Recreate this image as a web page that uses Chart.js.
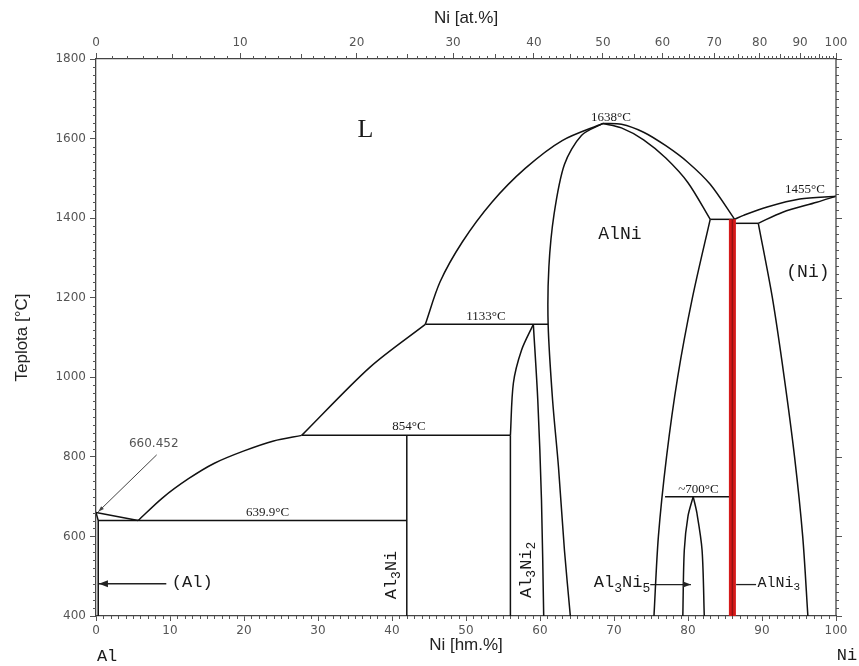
<!DOCTYPE html>
<html><head><meta charset="utf-8">
<script src="https://cdn.jsdelivr.net/npm/chart.js@4.4.1/dist/chart.umd.min.js"></script>
<style>html,body{margin:0;padding:0;background:#fff;}#wrap{width:859px;height:666px;}</style>
</head><body><div id="wrap"><canvas id="c" width="859" height="666"></canvas></div>
<script>
// ---- axis data ----
const AL_MASS = 26.98, NI_MASS = 58.69;
const atTicks = [0,10,20,30,40,50,60,70,80,90,100];
function atToWt(a){ return 100*a*NI_MASS/(a*NI_MASS+(100-a)*AL_MASS); }

// ---- phase boundaries [wt.% Ni, °C] ----
const liqAlEut   = [[0,660],[5.7,640]];
const alSolidus  = [[0,660],[0.3,640],[0.3,400]];
const eut640     = [[0.3,640],[42,640]];
const liqAl3Ni   = [[5.7,640],[9,697],[12.5,745],[16,784],[20,815],[24,840],[27.8,854]];
const per854     = [[27.8,854],[56,854]];
const al3NiLine  = [[42,400],[42,854]];
const liqAl3Ni2  = [[27.8,854],[37,1025],[44.5,1133]];
const per1133    = [[44.5,1133],[61.1,1133]];
const liqAlNiL   = [[44.5,1133],[46.5,1240],[49.5,1340],[53.5,1440],[58,1525],[63,1595],[68.5,1638]];
const liqAlNiR   = [[68.5,1638],[71,1636],[74,1616],[77,1582],[80,1540],[83,1485],[86.3,1397]];
const solAlNiR   = [[68.5,1638],[71,1627],[74,1597],[77,1551],[80,1489],[83.0,1397]];
const alNiLeft   = [[68.5,1638],[65.6,1608],[63.3,1535],[61.9,1410],[61.2,1277],[61.1,1133],[61.7,943],[62.5,774],[63.3,566],[64.1,400]];
const al3Ni2Vert = [[56,400],[56,854]];
const al3Ni2L    = [[56,854],[56.4,985],[57.5,1068],[59.1,1133]];
const al3Ni2R    = [[59.1,1133],[59.7,943],[60.2,692],[60.5,400]];
const per1395    = [[83.0,1397],[86.3,1397]];
const per1385    = [[86.4,1387],[89.5,1387]];
const liqNi      = [[86.3,1397],[87.5,1407],[90.7,1428],[95.1,1448],[100,1455]];
const solNi      = [[89.5,1387],[92.8,1415],[97.4,1440],[100,1455]];
const solvNi     = [[89.5,1387],[91.4,1200],[93.0,1000],[94.4,800],[95.5,600],[96.2,400]];
const alNiRight  = [[83.0,1397],[80.6,1200],[78.6,1000],[77.1,800],[76.0,600],[75.4,400]];
const per700     = [[76.9,700],[85.6,700]];
const al3Ni5L    = [[80.7,700],[80.0,651],[79.5,566],[79.3,400]];
const al3Ni5R    = [[80.7,700],[81.2,659],[81.9,566],[82.2,400]];
const alNi3      = [[86,1397],[86,400]];
// leader lines / arrows
const alArrow     = [[9.5,481],[0.4,481]];
const al3Ni5Arrow = [[74.9,479],[80.4,479]];
const alNi3Leader = [[86.5,479],[89.2,479]];
const leader660   = [[8.2,805],[0.3,662]];

const curved = [liqAl3Ni, liqAl3Ni2, liqAlNiL, liqAlNiR, solAlNiR, alNiLeft, al3Ni2L, al3Ni2R, liqNi, solNi, solvNi, alNiRight, al3Ni5L, al3Ni5R];
const straight = [liqAlEut, alSolidus, eut640, per854, al3NiLine, per1133, al3Ni2Vert, per1395, per1385, per700];
const leaders = [alArrow, al3Ni5Arrow, alNi3Leader];

const toPts = a => a.map(p => ({x:p[0], y:p[1]}));
const datasets = [];
curved.forEach(c => datasets.push({data:toPts(c), borderColor:'#111', borderWidth:1.5, tension:0.3, order:2}));
straight.forEach(c => datasets.push({data:toPts(c), borderColor:'#111', borderWidth:1.5, tension:0, order:2}));
leaders.forEach(c => datasets.push({data:toPts(c), borderColor:'#222', borderWidth:1.3, tension:0, order:2}));
datasets.push({data:toPts(leader660), borderColor:'#444', borderWidth:1, tension:0, order:2});
datasets.push({data:toPts(alNi3), borderColor:'#d61a1a', borderWidth:7, tension:0, order:1, borderCapStyle:'butt'});
datasets.push({data:toPts(alNi3), borderColor:'#931212', borderWidth:1.5, tension:0, order:0, borderCapStyle:'butt'});

// ---- text labels ----
const MONO = '"Liberation Mono"', SERIF = '"Liberation Serif"';
const labels = [
  {parts:[['L']], x:36.4, y:1621, size:26, fam:SERIF},
  {parts:[['1638°C']], x:69.6, y:1654, size:13, fam:SERIF},
  {parts:[['1455°C']], x:95.8, y:1473, size:13, fam:SERIF},
  {parts:[['1133°C']], x:52.7, y:1152, size:13, fam:SERIF},
  {parts:[['854°C']], x:42.3, y:875, size:13, fam:SERIF},
  {parts:[['639.9°C']], x:23.2, y:659, size:13, fam:SERIF},
  {parts:[['~700°C']], x:81.4, y:719, size:13, fam:SERIF},
  {parts:[['660.452']], x:7.8, y:832, size:12, fam:'"DejaVu Sans"', color:'#555'},
  {parts:[['AlNi']], x:70.8, y:1360, size:18, fam:MONO},
  {parts:[['(Ni)']], x:96.2, y:1265, size:18, fam:MONO},
  {parts:[['(Al)']], x:13.0, y:483, size:17, fam:MONO},
  {parts:[['Al'],['3',1],['Ni']], x:39.9, y:503, size:17, fam:MONO, rot:true},
  {parts:[['Al'],['3',1],['Ni'],['2',1]], x:58.2, y:516, size:17, fam:MONO, rot:true},
  {parts:[['Al'],['3',1],['Ni'],['5',1]], x:74.9, y:483, size:17, fam:MONO, align:'right'},
  {parts:[['AlNi'],['3',1]], x:89.4, y:483, size:15, fam:MONO, align:'left'},
  {parts:[['Al']], x:1.5, y:297, size:17, fam:MONO},
  {parts:[['Ni']], x:100.1, y:300, size:17, fam:MONO, align:'left'}
];

function drawRich(ctx, l, px, py){
  const big = l.size + 'px ' + l.fam, small = Math.round(l.size*0.75) + 'px ' + l.fam;
  let total = 0;
  const widths = l.parts.map(p => { ctx.font = p[1] ? small : big; const w = ctx.measureText(p[0]).width; total += w; return w; });
  ctx.save();
  ctx.translate(px, py);
  if (l.rot) ctx.rotate(-Math.PI/2);
  let x0 = l.align === 'right' ? -total : (l.align === 'left' ? 0 : -total/2);
  ctx.textBaseline = 'middle';
  ctx.textAlign = 'left';
  ctx.fillStyle = l.color || '#1a1a1a';
  l.parts.forEach((p, i) => {
    ctx.font = p[1] ? small : big;
    ctx.fillText(p[0], x0, p[1] ? l.size*0.3 : 0);
    x0 += widths[i];
  });
  ctx.restore();
}

function arrowHead(ctx, x1, y1, x2, y2, len, wid){
  const a = Math.atan2(y2-y1, x2-x1);
  ctx.beginPath();
  ctx.moveTo(x2, y2);
  ctx.lineTo(x2 - len*Math.cos(a) + wid*Math.sin(a), y2 - len*Math.sin(a) - wid*Math.cos(a));
  ctx.lineTo(x2 - len*Math.cos(a) - wid*Math.sin(a), y2 - len*Math.sin(a) + wid*Math.cos(a));
  ctx.closePath(); ctx.fill();
}

const decor = {
  id:'decor',
  afterDraw(chart){
    const ctx = chart.ctx, xs = chart.scales.x, ys = chart.scales.y, x2 = chart.scales.x2;
    const {left, right, top, bottom} = chart.chartArea;
    ctx.save();
    ctx.strokeStyle = '#555'; ctx.lineWidth = 1;
    const seg = (a,b,c,d) => { ctx.beginPath(); ctx.moveTo(a,b); ctx.lineTo(c,d); ctx.stroke(); };
    for (let w = 1; w < 100; w++) if (w % 10) { const p = Math.round(xs.getPixelForValue(w))+0.5; seg(p, bottom, p, bottom+3); }
    for (let a = 1; a < 100; a++) if (a % 10) { const p = Math.round(x2.getPixelForValue(atToWt(a)))+0.5; seg(p, top, p, top-(a%5===0?5:3)); }
    for (let t = 420; t < 1800; t += 20) if (t % 200) { const p = Math.round(ys.getPixelForValue(t))+0.5; seg(left-3, p, left, p); seg(right, p, right+3, p); }
    for (let t = 400; t <= 1800; t += 200) { const p = Math.round(ys.getPixelForValue(t))+0.5; seg(right, p, right+6, p); }
    ctx.strokeStyle = '#444'; ctx.lineWidth = 1.3;
    seg(right, top, right, bottom);
    // arrowheads
    ctx.fillStyle = '#222';
    const px = p => [xs.getPixelForValue(p[0]), ys.getPixelForValue(p[1])];
    let a0 = px(alArrow[0]), a1 = px(alArrow[1]); arrowHead(ctx, a0[0], a0[1], a1[0], a1[1], 9, 3.5);
    a0 = px(al3Ni5Arrow[0]); a1 = px(al3Ni5Arrow[1]); arrowHead(ctx, a0[0], a0[1], a1[0], a1[1], 8, 3);
    ctx.fillStyle = '#444';
    a0 = px(leader660[0]); a1 = px(leader660[1]); arrowHead(ctx, a0[0], a0[1], a1[0], a1[1], 6, 2);
    // labels
    labels.forEach(l => drawRich(ctx, l, xs.getPixelForValue(l.x), ys.getPixelForValue(l.y)));
    ctx.restore();
  }
};

const tickFont = {family:'"DejaVu Sans"', size:12};
const titleFont = {family:'"Liberation Sans"', size:17};
new Chart(document.getElementById('c'), {
  type:'scatter',
  data:{datasets},
  options:{
    responsive:false, devicePixelRatio:1, animation:false,
    showLine:true,
    elements:{point:{radius:0, hoverRadius:0}, line:{fill:false}},
    layout:{padding:{left:0, right:23, top:0, bottom:0}},
    plugins:{legend:{display:false}, tooltip:{enabled:false}},
    events:[],
    scales:{
      x:{type:'linear', position:'bottom', min:0, max:100,
        ticks:{stepSize:10, autoSkip:false, maxRotation:0, padding:3, color:'#555', font:tickFont, callback:v => String(v)},
        grid:{drawOnChartArea:false, drawTicks:true, tickLength:5, color:'#555'},
        border:{display:true, color:'#444', width:1.3},
        title:{display:true, text:'Ni [hm.%]', font:titleFont, color:'#222', padding:{top:0, bottom:10}},
        afterFit(s){ s.height = 50; }
      },
      x2:{type:'linear', position:'top', min:0, max:100,
        afterBuildTicks(s){ s.ticks = atTicks.map(a => ({value: atToWt(a)})); },
        ticks:{autoSkip:false, maxRotation:0, padding:3, color:'#555', font:tickFont, callback:(v,i) => String(atTicks[i])},
        grid:{drawOnChartArea:false, drawTicks:true, tickLength:6, color:'#555'},
        border:{display:true, color:'#444', width:1.3},
        title:{display:true, text:'Ni [at.%]', font:titleFont, color:'#222', padding:{top:8, bottom:0}},
        afterFit(s){ s.height = 59; }
      },
      y:{type:'linear', position:'left', min:400, max:1800,
        ticks:{stepSize:200, autoSkip:false, padding:4, color:'#555', font:tickFont, callback:v => String(v)},
        grid:{drawOnChartArea:false, drawTicks:true, tickLength:6, color:'#555'},
        border:{display:true, color:'#444', width:1.3},
        title:{display:true, text:'Teplota [°C]', font:titleFont, color:'#222', padding:{top:12, bottom:0}},
        afterFit(s){ s.width = 96; }
      }
    }
  },
  plugins:[decor]
});
</script></body></html>
